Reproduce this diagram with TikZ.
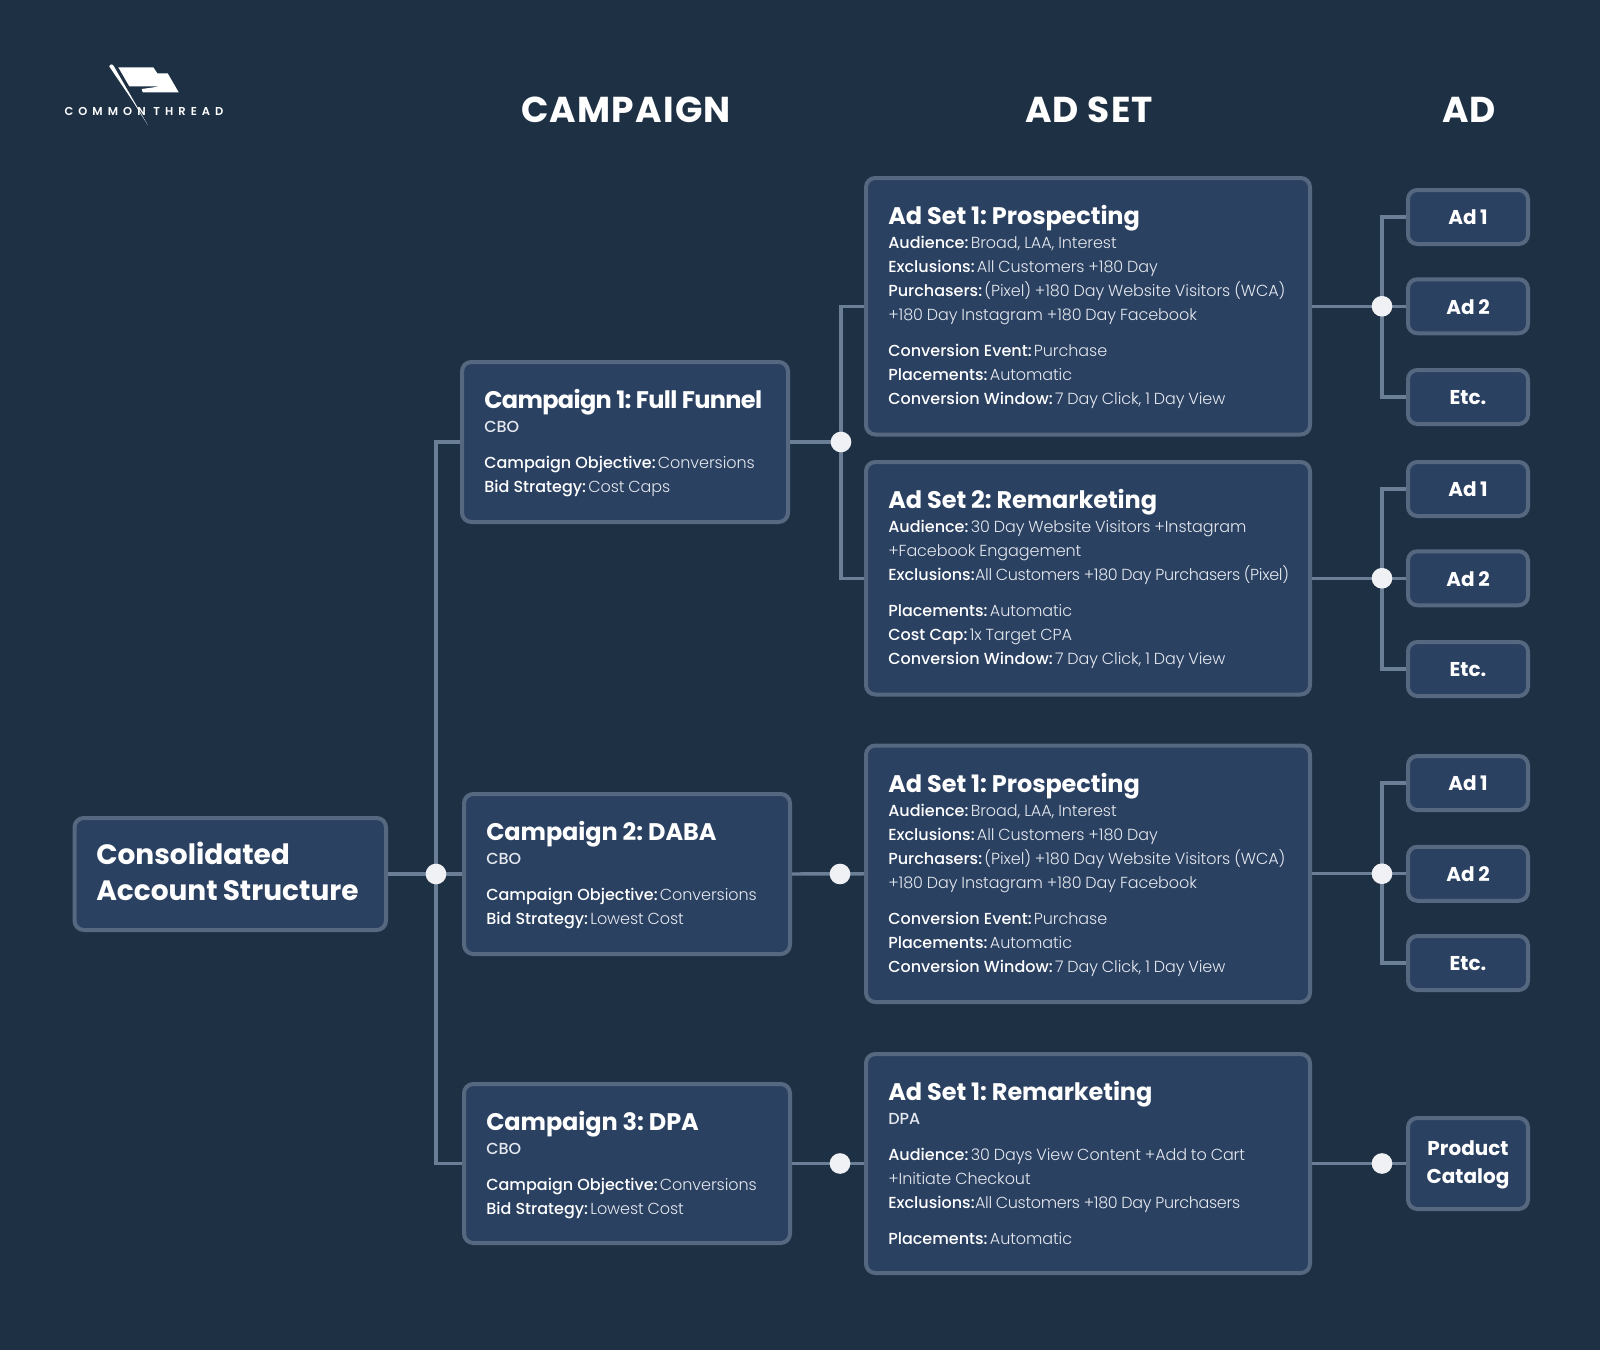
\documentclass[tikz,border=0pt]{standalone}
\usepackage{fontspec}
\newfontfamily\plight{Poppins Light}[LetterSpace=-0.5,WordSpace=0.9]
\newfontfamily\plights{Poppins Light}[LetterSpace=-2,WordSpace=0.9]
\newfontfamily\pmed{Poppins Medium}
\newfontfamily\pbold{Poppins}[UprightFont=* Bold]
\newfontfamily\ptitle{Poppins}[UprightFont=* Bold,LetterSpace=-0.4]
\newfontfamily\ptitleb{Poppins}[UprightFont=* Bold,LetterSpace=-2.7]
\newfontfamily\proot{Poppins}[UprightFont=* Bold,WordSpace=0.85]
\newfontfamily\phead{Poppins}[UprightFont=* Bold,LetterSpace=3.3]
\newfontfamily\plogo{Poppins SemiBold}[LetterSpace=44]
\definecolor{bgc}{HTML}{1E3044}
\definecolor{boxc}{HTML}{2B4162}
\definecolor{edgec}{HTML}{56687F}
\definecolor{linec}{HTML}{6A7E95}
\definecolor{dotc}{HTML}{EFF1F4}
\definecolor{bodyc}{HTML}{E4E8EE}
\newcommand{\lab}[1]{{\pmed\color{white}#1}\kern1.7pt}
\newcommand{\ttl}[1]{{\fontsize{18}{18}\ptitle\color{white}#1}}
\newcommand{\ttlb}[1]{{\fontsize{18}{18}\ptitleb\color{white}#1}}
\newcommand{\mkbox}[5]{%
  \pgfmathsetmacro{\bw}{(#4-#2-4)*0.75}%
  \pgfmathsetmacro{\bh}{(#5-#3-4)*0.75}%
  \node[panel,minimum width=\bw pt,minimum height=\bh pt] (#1) at ({(#2+#4)/2},{(#3+#5)/2}) {};}
\tikzset{
  panel/.style={draw=edgec,fill=boxc,line width=3pt,rounded corners=7pt,inner sep=0pt},
  conn/.style={draw=linec,line width=2.6pt},
  dotn/.style={circle,fill=dotc,inner sep=0pt,minimum size=15.5pt},
  body/.style={anchor=north west,align=left,inner sep=0pt,text=bodyc,font=\frenchspacing\fontsize{12}{18}\plight},
  head/.style={text=white,inner sep=0pt,font=\fontsize{27}{32}\phead},
  adtext/.style={text=white,inner sep=0pt,align=center,yshift=-0.4pt,font=\fontsize{15}{21.4}\pbold},
}
\begin{document}
\begin{tikzpicture}[x=0.75pt,y=-0.75pt]
\fill[bgc] (0,0) rectangle (1600,1350);
\useasboundingbox (0,0) rectangle (1600,1350);
% logo
\fill[white] (118.3,67.3) -- (153.3,67.3) -- (157.3,73.3) -- (167.7,73.3) -- (178.7,92.3) -- (142.7,92.3) -- (141.7,89) -- (160.7,86.3) -- (129.3,86.3) -- cycle;
\fill[white] (109.3,66.5) .. controls (110,63.5) and (113,64) .. (114,66.5) -- (147.7,125) -- (132,100) -- cycle;
\node[inner sep=0pt,text=white,font=\fontsize{8.6}{10}\plogo] (logo) at (144,111.7) {COMMON THREAD};
% column heads
\node[head] (hcamp) at (626,110) {CAMPAIGN};
\node[head] (hset) at (1089,110) {AD SET};
\node[head] (had) at (1469,110) {AD};
% boxes
\mkbox{root}{72.5}{816}{388}{932}
\mkbox{camp1}{460}{360}{790}{524}
\mkbox{camp2}{462}{792}{792}{956}
\mkbox{camp3}{462}{1082}{792}{1245}
\mkbox{set1}{864}{176}{1312}{436.5}
\mkbox{set2}{864}{460}{1312}{696.5}
\mkbox{set3}{864}{743.5}{1312}{1004}
\mkbox{set4}{864}{1052}{1312}{1275}
\mkbox{a1}{1406}{188}{1530}{246}
\mkbox{a2}{1406}{277.25}{1530}{335.25}
\mkbox{a3}{1406}{368}{1530}{426}
\mkbox{b1}{1406}{460}{1530}{518}
\mkbox{b2}{1406}{549.25}{1530}{607.25}
\mkbox{b3}{1406}{640}{1530}{698}
\mkbox{c1}{1406}{754}{1530}{812}
\mkbox{c2}{1406}{844.75}{1530}{902.75}
\mkbox{c3}{1406}{934}{1530}{992}
\mkbox{pc}{1406}{1116}{1530}{1211}
% texts
\node[anchor=north west,align=left,inner sep=0pt,text=white,font=\fontsize{21}{27}\proot] (troot) at (96,841.5) {Consolidated\\Account Structure};
\node[body] (tc1) at (484,389) {\ttlb{Campaign 1: Full Funnel}\\[0.35pt] {\pmed CBO}\\[8.65pt] \lab{Campaign Objective:} Conversions\\ \lab{Bid Strategy:} Cost Caps};
\node[body] (tc2) at (486,821) {\ttl{Campaign 2: DABA}\\[0.35pt] {\pmed CBO}\\[8.65pt] \lab{Campaign Objective:} Conversions\\ \lab{Bid Strategy:} Lowest Cost};
\node[body] (tc3) at (486,1111) {\ttl{Campaign 3: DPA}\\[0.35pt] {\pmed CBO}\\[8.65pt] \lab{Campaign Objective:} Conversions\\ \lab{Bid Strategy:} Lowest Cost};
\node[body] (ts1) at (888,205) {\ttl{Ad Set 1: Prospecting}\\[0.35pt]
\lab{Audience:} Broad, LAA, Interest\\
\lab{Exclusions:} All Customers +180 Day\\
\lab{Purchasers:} (Pixel) +180 Day Website Visitors (WCA)\\
+180 Day Instagram +180 Day Facebook\\[8.65pt]
\lab{Conversion Event:} Purchase\\
\lab{Placements:} Automatic\\
\lab{Conversion Window:} 7 Day Click, 1 Day View};
\node[body] (ts2) at (888,489) {\ttl{Ad Set 2: Remarketing}\\[0.35pt]
\lab{Audience:} 30 Day Website Visitors +Instagram\\
+Facebook Engagement\\
\lab{Exclusions:} {\plights\kern-1.4pt All Customers +180 Day Purchasers (Pixel)}\\[8.65pt]
\lab{Placements:} Automatic\\
\lab{Cost Cap:} 1x Target CPA\\
\lab{Conversion Window:} 7 Day Click, 1 Day View};
\node[body] (ts3) at (888,773) {\ttl{Ad Set 1: Prospecting}\\[0.35pt]
\lab{Audience:} Broad, LAA, Interest\\
\lab{Exclusions:} All Customers +180 Day\\
\lab{Purchasers:} (Pixel) +180 Day Website Visitors (WCA)\\
+180 Day Instagram +180 Day Facebook\\[8.65pt]
\lab{Conversion Event:} Purchase\\
\lab{Placements:} Automatic\\
\lab{Conversion Window:} 7 Day Click, 1 Day View};
\node[body] (ts4) at (888,1081) {\ttl{Ad Set 1: Remarketing}\\[0.35pt]
{\pmed DPA}\\[8.65pt]
\lab{Audience:} 30 Days View Content +Add to Cart\\
+Initiate Checkout\\
\lab{Exclusions:} {\plights\kern-1.4pt All Customers +180 Day Purchasers}\\[8.65pt]
\lab{Placements:} Automatic};
\foreach \n/\t in {a1/Ad 1,a2/Ad 2,a3/Etc.,b1/Ad 1,b2/Ad 2,b3/Etc.,c1/Ad 1,c2/Ad 2,c3/Etc.}{\node[adtext] (l\n) at (\n) {\t};}
\node[adtext,yshift=-0.7pt] (lpc) at (pc) {Product\\Catalog};
% junction points
\coordinate (j0) at (436,874);
\coordinate (j1) at (841,442);
\coordinate (j2) at (840,874);
\coordinate (j3) at (840,1163.5);
\coordinate (k1) at (1382,306.25);
\coordinate (k2) at (1382,578.25);
\coordinate (k3) at (1382,873.75);
\coordinate (k4) at (1382,1163.5);
% connectors
\draw[conn] (root.east) -- (camp2.west);
\draw[conn] (j0) |- (camp1.west);
\draw[conn] (j0) |- (camp3.west);
\draw[conn] (camp1.east) -- (j1);
\draw[conn] (j1) |- (set1.west);
\draw[conn] (j1) |- (set2.west);
\draw[conn] (camp2.east) -- (set3.west);
\draw[conn] (camp3.east) -- (set4.west);
\draw[conn] (set1.east) -- (k1);
\draw[conn] (k1) |- (a1.west);
\draw[conn] (k1) -- (a2.west);
\draw[conn] (k1) |- (a3.west);
\draw[conn] (set2.east) -- (k2);
\draw[conn] (k2) |- (b1.west);
\draw[conn] (k2) -- (b2.west);
\draw[conn] (k2) |- (b3.west);
\draw[conn] (set3.east) -- (k3);
\draw[conn] (k3) |- (c1.west);
\draw[conn] (k3) -- (c2.west);
\draw[conn] (k3) |- (c3.west);
\draw[conn] (set4.east) -- (pc.west);
% dots
\foreach \j in {j0,j1,j2,j3,k1,k2,k3,k4}{\node[dotn] (d\j) at (\j) {};}
\end{tikzpicture}
\end{document}
